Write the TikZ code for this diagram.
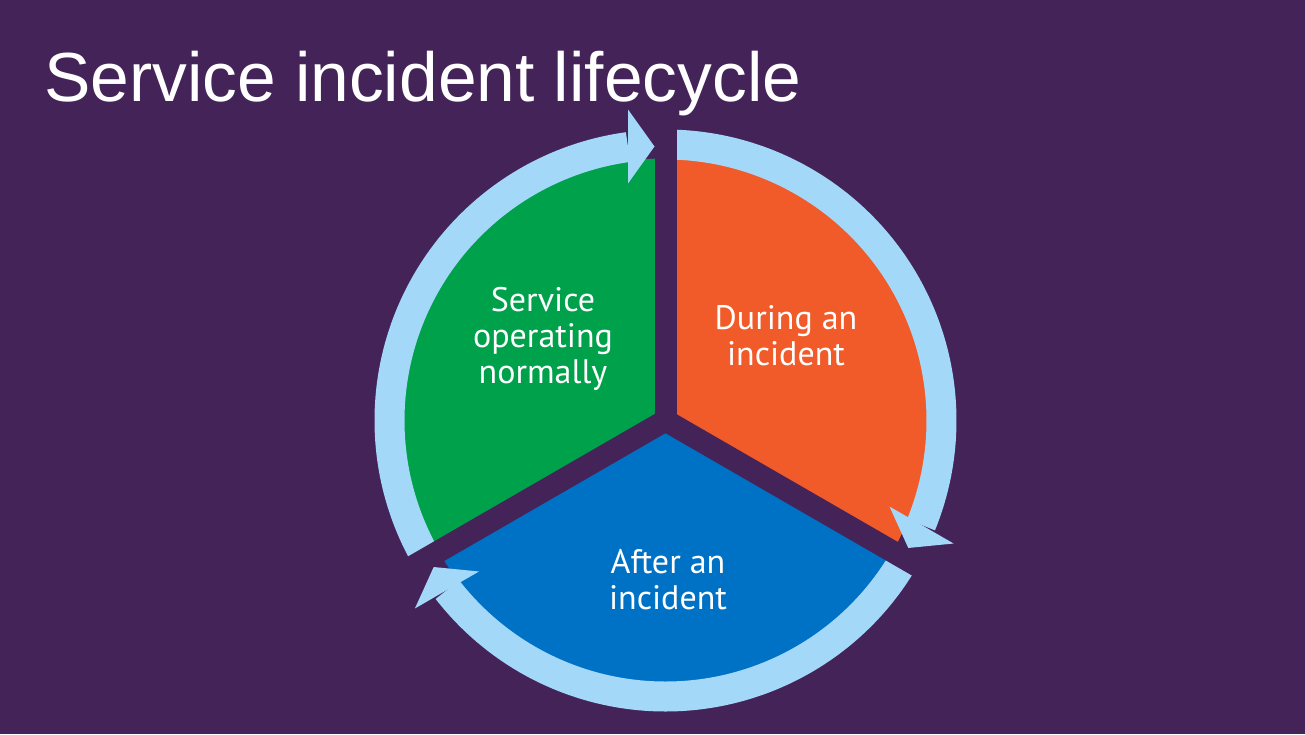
\documentclass[tikz,border=0pt]{standalone}
\usepackage{fontspec}
\setmainfont{PT Sans}
\newfontfamily\titlefont{Liberation Sans}
\usepackage{xcolor}
\usepackage{tikz}

\definecolor{bgPurple}{HTML}{442359}
\definecolor{segGreen}{HTML}{00A14B}
\definecolor{segOrange}{HTML}{F15A29}
\definecolor{segBlue}{HTML}{0072C6}
\definecolor{ringBlue}{HTML}{A4D8F8}

\begin{document}
\begin{tikzpicture}[
	x=1pt, y=1pt,
	gap/.style={fill=bgPurple},
	head/.style={fill=ringBlue},
	ring/.style={draw=ringBlue, line width=30pt},
	lbl/.style={text=white, align=center, inner sep=0pt, font=\fontsize{34}{36}\selectfont},
	ttl/.style={text=white, inner sep=0pt, anchor=base west, font=\titlefont\fontsize{69.5}{72}\selectfont}
	]
	% canvas
	\fill[bgPurple] (-665.5,-313.5) rectangle (639.5,420.5);
	\useasboundingbox (-665.5,-313.5) rectangle (639.5,420.5);
	% pie segments
	\foreach \a/\c in {90/segGreen, -30/segOrange, 210/segBlue}
		\fill[\c] (0,0) -- (\a:262) arc[start angle=\a, end angle=\a+120, radius=262pt] -- cycle;
	% ring arcs and arrow heads
	\foreach \s in {90,-30,210}{
		\draw[ring] (\s+120:276) arc[start angle=\s+120, end angle=\s+7.8, radius=276pt];
		\fill[head, rotate=\s] (311,37.5) -- (237,37.5) -- (274,11) -- cycle;
	}
	% gaps between segments
	\foreach \s in {90,-30,210}
		\fill[gap, rotate=\s] (0,-11) rectangle (330,11);
	% labels
	\node[lbl] (normal) at (-122.5,82) {Service\\operating\\normally};
	\node[lbl] (during) at (120.5,84.5) {During an\\incident};
	\node[lbl] (after) at (2.5,-159.5) {After an\\incident};
	\node[ttl] (title) at (-621.5,318.5) {Service incident lifecycle};
\end{tikzpicture}
\end{document}
